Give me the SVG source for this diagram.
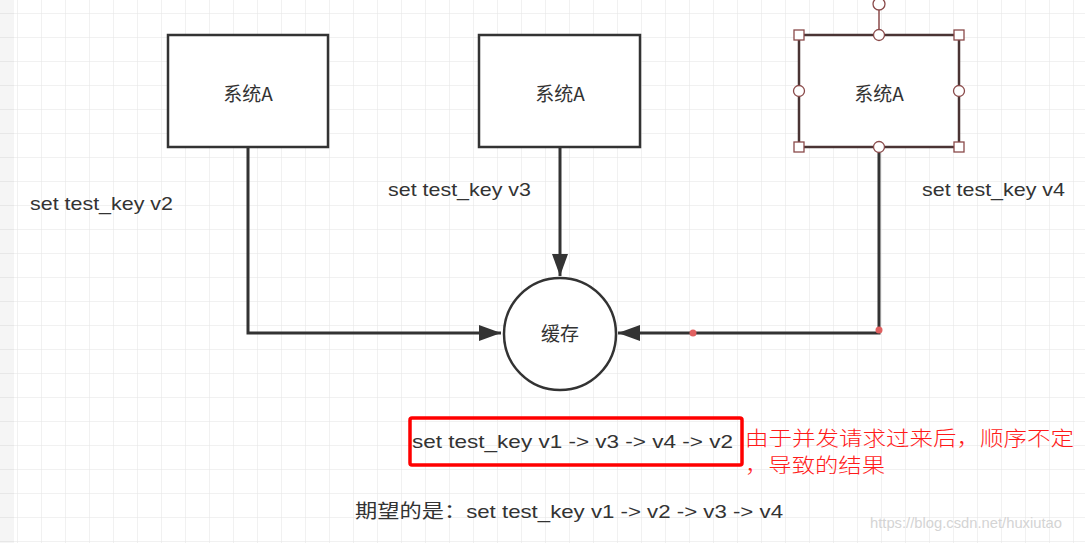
<svg xmlns="http://www.w3.org/2000/svg" width="1085" height="543" viewBox="0 0 1085 543">
  <style>
    .box { fill: #ffffff; stroke: #333333; stroke-width: 2.5; }
    .sel { fill: #ffffff; stroke: #4a3434; stroke-width: 2.5; }
    .hdl { fill: #ffffff; stroke: #8a4a4a; stroke-width: 1.3; }
    .lbl { font-family: "Noto Sans CJK SC", "Liberation Sans", sans-serif; font-size: 19px; fill: #333333; }
    .txt { font-family: "Liberation Sans", "Noto Sans CJK SC", sans-serif; font-size: 19px; fill: #333333; }
    .red { font-family: "Noto Sans CJK SC", serif; font-size: 20px; font-weight: 300; fill: #ff1a1a; }
    .conn { fill: none; stroke: #333333; stroke-width: 3; }
  </style>
  <defs>
    <pattern id="grid" x="17" y="13" width="24" height="24" patternUnits="userSpaceOnUse">
      <path d="M0,0 H24 M0,0 V24" fill="none" stroke="#e4e4e4" stroke-width="1"/>
    </pattern>
    <marker id="arrow" markerUnits="userSpaceOnUse" markerWidth="22" markerHeight="16" refX="22" refY="8" orient="auto">
      <path d="M0,0 L22,8 L0,16 z" fill="#333333"/>
    </marker>
  </defs>
  <rect width="1085" height="543" fill="#ffffff"/>
  <rect width="1085" height="543" fill="url(#grid)"/>
  <rect x="0" y="0" width="14" height="543" fill="#000000" opacity="0.04"/>

  <g id="connectors">
    <path class="conn" d="M248,147 V333 H501" marker-end="url(#arrow)"/>
    <path class="conn" d="M560,147 V276" marker-end="url(#arrow)"/>
    <path class="conn" d="M879,147 V333 H618" marker-end="url(#arrow)"/>
    <circle cx="693" cy="333" r="3.5" fill="#e06060"/>
    <circle cx="879" cy="330" r="3.5" fill="#e06060"/>
  </g>

  <g id="node-a1">
    <rect class="box" x="168" y="35" width="160" height="112"/>
    <text class="lbl" x="248" y="101" text-anchor="middle">系统A</text>
  </g>
  <g id="node-a2">
    <rect class="box" x="479" y="35" width="161" height="112"/>
    <text class="lbl" x="560" y="101" text-anchor="middle">系统A</text>
  </g>
  <g id="node-a3">
    <line x1="879" y1="10" x2="879" y2="35" stroke="#8a4a4a" stroke-width="1.5"/>
    <rect class="sel" x="799" y="35" width="160" height="112"/>
    <text class="lbl" x="879" y="101" text-anchor="middle">系统A</text>
    <circle class="hdl" cx="879" cy="4" r="6"/>
    <rect class="hdl" x="794" y="30" width="10" height="10"/>
    <rect class="hdl" x="954" y="30" width="10" height="10"/>
    <rect class="hdl" x="794" y="142" width="10" height="10"/>
    <rect class="hdl" x="954" y="142" width="10" height="10"/>
    <circle class="hdl" cx="879" cy="35" r="5.5"/>
    <circle class="hdl" cx="799" cy="91" r="5.5"/>
    <circle class="hdl" cx="959" cy="91" r="5.5"/>
    <circle class="hdl" cx="879" cy="147" r="5.5"/>
  </g>
  <g id="node-cache">
    <circle class="box" cx="560" cy="334" r="56"/>
    <text class="lbl" x="560" y="341" text-anchor="middle" font-size="20">缓存</text>
  </g>

  <g id="labels">
    <text class="txt" x="30" y="210" textLength="143" lengthAdjust="spacingAndGlyphs">set test_key v2</text>
    <text class="txt" x="388" y="196" textLength="143" lengthAdjust="spacingAndGlyphs">set test_key v3</text>
    <text class="txt" x="922" y="196" textLength="143" lengthAdjust="spacingAndGlyphs">set test_key v4</text>
  </g>

  <g id="result">
    <rect x="410" y="418" width="332" height="47" rx="2" fill="none" stroke="#ff0000" stroke-width="3.5"/>
    <text class="txt" x="412" y="448" font-size="20" textLength="321" lengthAdjust="spacingAndGlyphs">set test_key v1 -&gt; v3 -&gt; v4 -&gt; v2</text>
    <text class="red" x="745" y="446" textLength="329" lengthAdjust="spacingAndGlyphs">由于并发请求过来后，顺序不定</text>
    <text class="red" x="745" y="473" textLength="140" lengthAdjust="spacingAndGlyphs">，导致的结果</text>
  </g>

  <g id="expected">
    <text class="txt" x="355" y="518" font-size="18" textLength="428" lengthAdjust="spacingAndGlyphs">期望的是：set test_key v1 -&gt; v2 -&gt; v3 -&gt; v4</text>
  </g>

  <text x="870" y="528" font-family="Liberation Sans, sans-serif" font-size="15" fill="#d4d4d4" textLength="192" lengthAdjust="spacingAndGlyphs">https://blog.csdn.net/huxiutao</text>
</svg>
